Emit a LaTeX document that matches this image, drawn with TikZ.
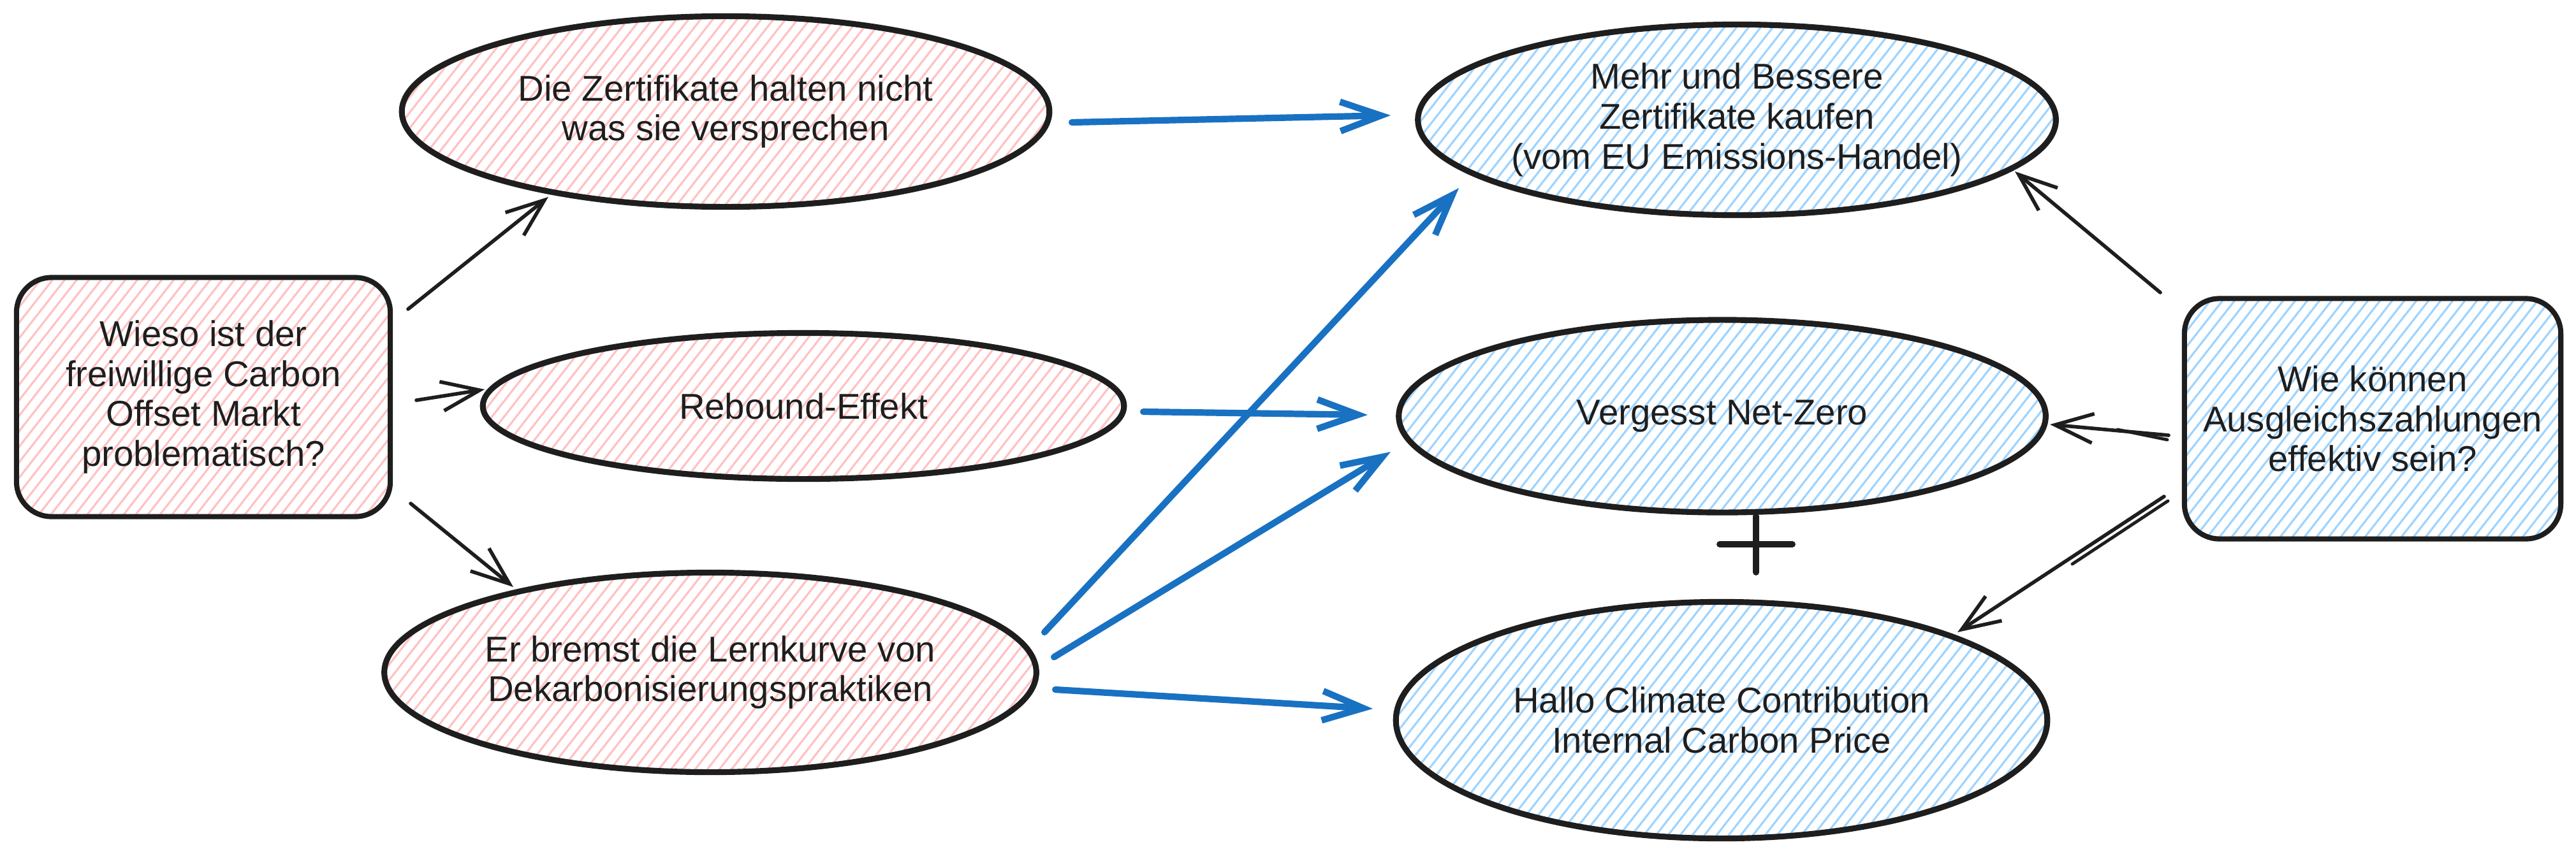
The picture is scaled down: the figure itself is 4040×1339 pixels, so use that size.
\documentclass[tikz,border=0pt]{standalone}
\usepackage{fontspec}
\setmainfont{Liberation Sans}
\usetikzlibrary{shapes.geometric,arrows.meta}
\definecolor{ink}{HTML}{1E1E1E}
\definecolor{pinkh}{HTML}{FFC2C2}
\definecolor{blueh}{HTML}{9FD4FF}
\definecolor{arrowblue}{HTML}{1971C2}
\begin{document}
\begin{tikzpicture}[x=0.01cm,y=-0.01cm,
  hatch/.style={path picture={\foreach \k in {-45,...,45}{\draw[line width=0.9pt,#1] ([xshift=\k*0.19cm]path picture bounding box.center) ++(232:4cm) -- ++(52:8cm);}}},
  txt/.style={font=\fontsize{16}{17.8}\selectfont, align=center, text=ink},
  oval/.style={ellipse, draw=ink, line width=2.6pt, inner sep=0pt, txt},
  qbox/.style={rectangle, rounded corners=0.55cm, draw=ink, line width=2.3pt, inner sep=0pt, txt},
  blk/.style={draw=ink, line width=1.6pt, line cap=round, -{Straight Barb[length=0.6cm,width=0.46cm]}},
  shaft/.style={draw=ink, line width=1.4pt, line cap=round},
  blu/.style={draw=arrowblue, line width=2.9pt, line cap=round, -{Straight Barb[length=0.64cm,width=0.46cm]}},
  plusbar/.style={draw=ink, line width=2.8pt, line cap=round},
]
\useasboundingbox[fill=white] (0,0) rectangle (4040,1339);

% left question
\node[qbox, hatch=pinkh, minimum width=5.86cm, minimum height=3.75cm] (q) at (319,623)
  {Wieso ist der\\freiwillige Carbon\\Offset Markt\\problematisch?};
% problems
\node[oval, hatch=pinkh, minimum width=10.15cm, minimum height=2.99cm] (e1) at (1138,175)
  {Die Zertifikate halten nicht\\was sie versprechen};
\node[oval, hatch=pinkh, minimum width=10.05cm, minimum height=2.29cm] (e2) at (1260,637)
  {Rebound-Effekt};
\node[oval, hatch=pinkh, minimum width=10.22cm, minimum height=3.13cm] (e3) at (1114,1055)
  {Er bremst die Lernkurve von\\Dekarbonisierungspraktiken};
% solutions
\node[oval, hatch=blueh, minimum width=10.0cm, minimum height=2.99cm] (e4) at (2724,188)
  {Mehr und Bessere\\Zertifikate kaufen\\(vom EU Emissions-Handel)};
\node[oval, hatch=blueh, minimum width=10.14cm, minimum height=3.02cm] (e5) at (2701,653)
  {Vergesst Net-Zero};
\node[oval, hatch=blueh, minimum width=10.21cm, minimum height=3.71cm] (e6) at (2700,1130)
  {Hallo Climate Contribution\\Internal Carbon Price};
% right question
\node[qbox, hatch=blueh, minimum width=5.9cm, minimum height=3.77cm] (r) at (3721,657)
  {Wie können\\Ausgleichszahlungen\\effektiv sein?};

% plus sign
\coordinate (plus) at (2754,854);
\draw[plusbar] ([shift={(-57,0)}]plus) -- ([shift={(57,0)}]plus);
\draw[plusbar] ([shift={(0,-44)}]plus) -- ([shift={(0,44)}]plus);

% black arrows from left question
\draw[blk] ([shift={(321,-138)}]q.center) -- ([shift={(-278,134)}]e1.center);
\draw[blk] ([shift={(334,5)}]q.center) -- ([shift={(-500,-26)}]e2.center);
\draw[blk] ([shift={(325,167)}]q.center) -- ([shift={(-309,-134)}]e3.center);

% blue arrows
\draw[blu] ([shift={(543,17)}]e1.center) -- ([shift={(-543,-7)}]e4.center);
\draw[blu] ([shift={(533,9)}]e2.center) -- ([shift={(-556,-2)}]e5.center);
\draw[blu] ([shift={(524,-63)}]e3.center) -- ([shift={(-436,107)}]e4.center);
\draw[blu] ([shift={(539,-24)}]e3.center) -- ([shift={(-520,56)}]e5.center);
\draw[blu] ([shift={(541,27)}]e3.center) -- ([shift={(-547,-18)}]e6.center);

% black arrows from right question
\draw[blk] ([shift={(-333,-198)}]r.center) -- ([shift={(436,81)}]e4.center);
\draw[blk] ([shift={(-320,26)}]r.center) -- ([shift={(514,13)}]e5.center);
\draw[shaft] ([shift={(-322,33)}]r.center) -- ([shift={(620,21)}]e5.center);
\draw[blk] ([shift={(-327,122)}]r.center) -- ([shift={(370,-138)}]e6.center);
\draw[shaft] ([shift={(-321,129)}]r.center) -- ([shift={(550,-245)}]e6.center);
\end{tikzpicture}
\end{document}
